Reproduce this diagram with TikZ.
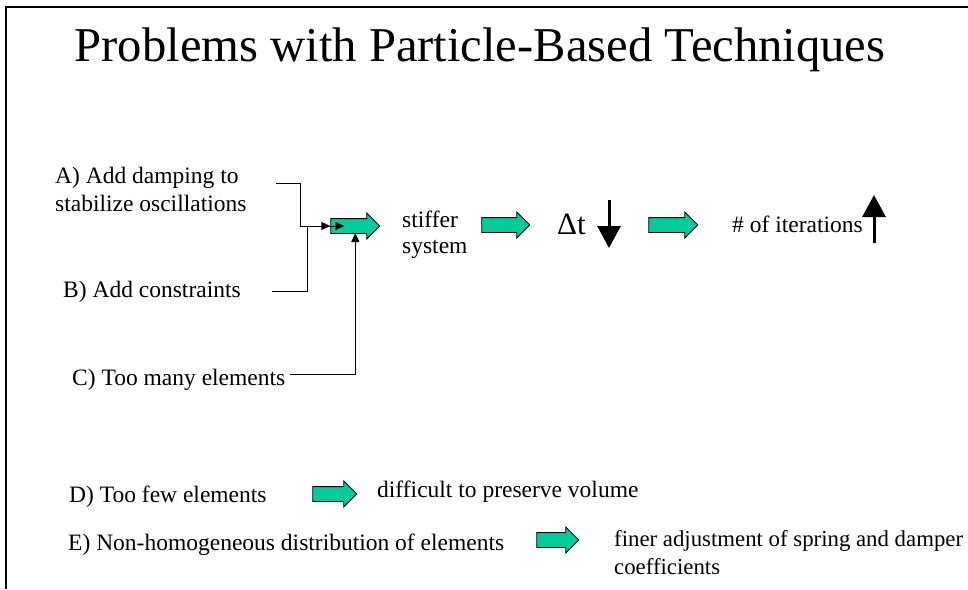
\documentclass[tikz,border=0pt]{standalone}
\usepackage{fontspec}
\setmainfont{Liberation Serif}
\usetikzlibrary{positioning,shapes.arrows,arrows.meta,calc}
\definecolor{slidegreen}{RGB}{0,204,153}

\begin{document}
\begin{tikzpicture}[
  x=1pt, y=-1pt,
  txt/.style={font=\fontsize{23.5}{28}\selectfont, anchor=base west, inner sep=0pt, align=left},
  blk/.style={single arrow, draw, fill=slidegreen, line width=0.8pt, inner xsep=0pt, inner ysep=7pt, single arrow head extend=5.5pt},
  conn/.style={line width=1pt, -{Triangle[length=9pt,width=8pt]}},
  big/.style={line width=3pt, -{Triangle[length=22pt,width=23pt]}}
]
  \useasboundingbox (0,0) rectangle (968,589);
  \draw[line width=2pt] (6,589) -- (6,7) -- (968,7);

  \node[font=\fontsize{48.6}{56}\selectfont, anchor=base, inner sep=0pt] (title) at (480,61) {Problems with Particle-Based Techniques};

  \node[txt] (A) at (55,211) {A) Add damping to\\stabilize oscillations};
  \node[txt] (B) at (63,297) {B) Add constraints};
  \node[txt] (C) at (72,385) {C) Too many elements};
  \node[blk, minimum height=49pt] (g1) at (351.5,226) {};
  \node[txt, font=\fontsize{23.5}{26}\selectfont] (stf) at (402,253) {stiffer\\system};
  \node[blk, minimum height=48pt] (g2) at (502,225) {};
  \node[font=\fontsize{31}{36}\selectfont, anchor=base west, inner sep=0pt] (dt) at (557,234) {Δt};
  \node[blk, minimum height=49pt] (g3) at (669.5,225) {};
  \node[txt] (it) at (732,232) {\# of iterations};

  \node[txt] (D) at (69,502) {D) Too few elements};
  \node[blk, minimum height=44pt] (gD) at (331,494) {};
  \node[txt] (vol) at (377,497) {difficult to preserve volume};
  \node[txt] (E) at (68,550) {E) Non-homogeneous distribution of elements};
  \node[blk, minimum height=42pt] (gE) at (554,540) {};
  \node[txt, font=\fontsize{22.8}{28}\selectfont] (fin) at (614,574) {finer adjustment of spring and damper\\coefficients};

  \coordinate (jA) at (300,226);
  \coordinate (jB) at (307,226);
  \draw[conn] ([xshift=29pt,yshift=5pt]A.east) -| (jA) -- (g1.west);
  \draw[conn] ([xshift=31pt]B.east) -| (jB) -- ($(g1.west)+(14,0)$);
  \draw[conn] ([xshift=5pt,yshift=5pt]C.east) -| ($(g1.west)+(25,7)$);

  \draw[big] (609,200) -- (609,248);
  \draw[big] (874,243) -- (874,195);
\end{tikzpicture}
\end{document}
